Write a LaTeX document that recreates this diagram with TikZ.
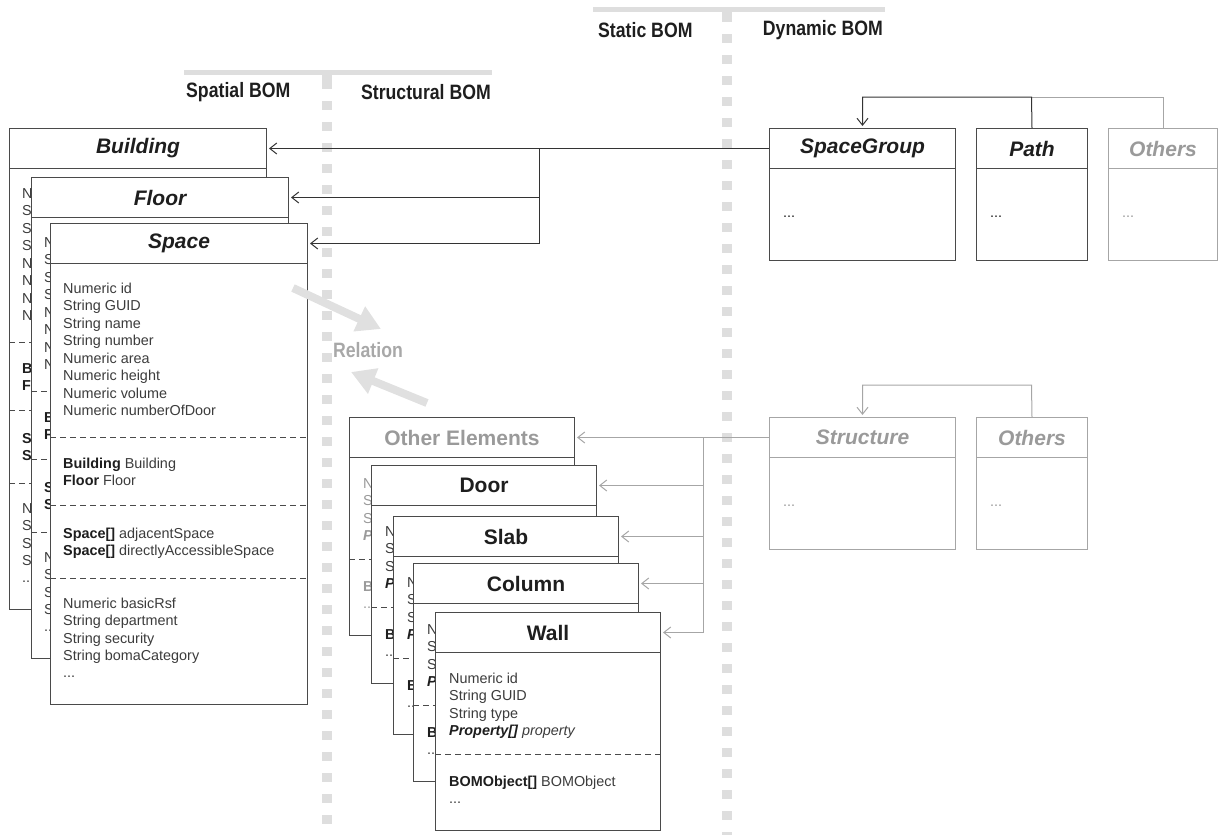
\documentclass[tikz,border=0pt]{standalone}
\usepackage{fontspec}
\setmainfont{Liberation Sans}
\newfontfamily\hdrfont{Liberation Sans}[FakeStretch=0.85]
\usetikzlibrary{arrows.meta}

\definecolor{boxc}{HTML}{4A4A4A}
\definecolor{titlec}{HTML}{1E1E1E}
\definecolor{txtc}{HTML}{3C3C3C}
\definecolor{boldc}{HTML}{1E1E1E}
\definecolor{paleline}{HTML}{A6A6A6}
\definecolor{paletxt}{HTML}{9A9A9A}
\definecolor{dividerc}{HTML}{DEDEDE}
\definecolor{relc}{HTML}{E0E0E0}
\definecolor{reltxt}{HTML}{A8A8A8}
\definecolor{connc}{HTML}{333333}
\colorlet{curtxt}{txtc}
\colorlet{curbold}{boldc}

\newcommand\ttlfont{\fontsize{21}{25}\selectfont\bfseries}
\newcommand\bodyfont{\fontsize{14.4}{17.5}\selectfont}
\newcommand\bt[1]{{\bfseries\color{curbold}#1}}

% boxes lying behind others only show the start of each line
\newif\ifbackbox
\newcommand\attr[5]{\node[bodyline] (#1) at (#2,#3) {#4\ifbackbox\else#5\fi};}

\tikzset{
  bodybox/.style={anchor=north west, draw=#1, line width=1pt, fill=white, inner sep=0pt},
  bodybox/.default=boxc,
  titlebox/.style={anchor=north west, draw=#1, line width=1pt, fill=white, inner sep=0pt,
    minimum height=40pt, font=\ttlfont, text=titlec},
  titlebox/.default=boxc,
  bodyline/.style={anchor=base west, inner sep=0pt, font=\bodyfont, text=curtxt},
  dashsep/.style={draw=boxc, line width=1pt, dash pattern=on 6pt off 4pt},
  hdrtxt/.style={inner sep=0pt, font=\hdrfont\fontsize{20.8}{24}\selectfont\bfseries, text=titlec},
  divbar/.style={draw=dividerc, line width=5pt},
  divdots/.style={draw=dividerc, line width=10pt, dash pattern=on 9pt off 12pt},
  darkconn/.style={draw=connc, line width=1pt},
  paleconn/.style={draw=paleline, line width=1pt},
  arrowend/.style={-{Straight Barb[length=7pt,width=11pt,line width=1pt]}, shorten >=2pt},
  relarrow/.style={draw=relc, line width=8pt, -{Triangle[length=24pt,width=26pt]}},
}

% spatial class box: name, left, top, title, visible width of the attributes
\newcommand\spacebox[5]{%
  \node[bodybox, minimum width=257pt, minimum height=481pt] (#1) at (#2,#3) {};
  \node[titlebox, minimum width=257pt, font=\ttlfont\itshape] (#1-t) at (#2,#3) {#4};
  \begin{scope}[shift={(#2,#3)}]
    \draw[dashsep] (0,214) -- (257,214);
    \draw[dashsep] (0,282) -- (257,282);
    \draw[dashsep] (0,355) -- (257,355);
    \clip (0,0) rectangle (#5,481);
    \attr{#1-a1}{13}{70}{N}{umeric id}
    \attr{#1-a2}{13}{87.5}{S}{tring GUID}
    \attr{#1-a3}{13}{105}{S}{tring name}
    \attr{#1-a4}{13}{122.5}{S}{tring number}
    \attr{#1-a5}{13}{140}{N}{umeric area}
    \attr{#1-a6}{13}{157.5}{N}{umeric height}
    \attr{#1-a7}{13}{175}{N}{umeric volume}
    \attr{#1-a8}{13}{192.5}{N}{umeric numberOfDoor}
    \attr{#1-b1}{13}{245}{\bt{B}}{\bt{uilding} Building}
    \attr{#1-b2}{13}{262.5}{\bt{F}}{\bt{loor} Floor}
    \attr{#1-c1}{13}{315}{\bt{S}}{\bt{pace[]} adjacentSpace}
    \attr{#1-c2}{13}{332.5}{\bt{S}}{\bt{pace[]} directlyAccessibleSpace}
    \attr{#1-d1}{13}{385}{N}{umeric basicRsf}
    \attr{#1-d2}{13}{402.5}{S}{tring department}
    \attr{#1-d3}{13}{420}{S}{tring security}
    \attr{#1-d4}{13}{437.5}{S}{tring bomaCategory}
    \attr{#1-d5}{13}{454}{...}{}
  \end{scope}}

% structural element box: name, left, top, title, title colour, visible width
\newcommand\elembox[6]{%
  \node[bodybox, minimum width=225pt, minimum height=218pt] (#1) at (#2,#3) {};
  \node[titlebox, minimum width=225pt, text=#5] (#1-t) at (#2,#3) {#4};
  \begin{scope}[shift={(#2,#3)}]
    \draw[dashsep] (0,142) -- (225,142);
    \clip (0,0) rectangle (#6,218);
    \attr{#1-a1}{14}{71}{N}{umeric id}
    \attr{#1-a2}{14}{88.5}{S}{tring GUID}
    \attr{#1-a3}{14}{106}{S}{tring type}
    \attr{#1-a4}{14}{123.5}{\bt{\itshape P}}{\bt{\itshape roperty[]} \itshape property}
    \attr{#1-b1}{14}{174}{\bt{B}}{\bt{OMObject[]} BOMObject}
    \attr{#1-b2}{14}{191}{...}{}
  \end{scope}}

% dynamic class box: name, left, top, width, title, line colour, text colour
\newcommand\classbox[7]{%
  \node[bodybox=#6, minimum width=#4pt, minimum height=132pt] (#1) at (#2,#3) {};
  \node[titlebox=#6, minimum width=#4pt, font=\ttlfont\itshape, text=#7] (#1-t) at (#2,#3) {#5};
  \node[bodyline, text=#7] (#1-a1) at (#2+14,#3+89) {...};}

\begin{document}
\begin{tikzpicture}[x=1pt,y=-1pt]
\useasboundingbox (0,0) rectangle (1219,835);

% column dividers
\draw[divbar] (184,72) -- (492,72);
\draw[divdots] (327,72) -- (327,82);
\draw[divdots] (327,80) -- (327,835);
\draw[divbar] (593,9.5) -- (885,9.5);
\draw[divdots] (727,9.5) -- (727,16);
\draw[divdots] (727,13) -- (727,835);

\node[hdrtxt, anchor=west] (spatial) at (186,92) {Spatial BOM};
\node[hdrtxt, anchor=east] (structural) at (491,92) {Structural BOM};
\node[hdrtxt, anchor=west] (static) at (598,30) {Static BOM};
\node[hdrtxt, anchor=east] (dynamic) at (883,30) {Dynamic BOM};

% spatial classes
\backboxtrue
\spacebox{building}{9}{128}{Building}{22}
\spacebox{floor}{31}{177}{Floor}{19}
\backboxfalse
\spacebox{space}{50}{223}{Space}{257}

% structural classes
\backboxtrue
\colorlet{curtxt}{paletxt}\colorlet{curbold}{paletxt}
\elembox{otherel}{349}{417}{Other Elements}{paletxt}{22}
\colorlet{curtxt}{txtc}\colorlet{curbold}{boldc}
\elembox{door}{371}{465}{Door}{titlec}{22}
\elembox{slab}{393}{516}{Slab}{titlec}{20}
\elembox{column}{413}{563}{Column}{titlec}{22}
\backboxfalse
\elembox{wall}{435}{612}{Wall}{titlec}{225}

% dynamic classes
\classbox{sg}{769}{128}{186}{SpaceGroup}{boxc}{titlec}
\classbox{path}{976}{128}{111}{Path}{boxc}{titlec}
\classbox{othtop}{1108}{128}{109}{Others}{paleline}{paletxt}
\classbox{struct}{769}{417}{186}{Structure}{paleline}{paletxt}
\classbox{othmid}{976}{417}{111}{Others}{paleline}{paletxt}

% generalisation among dynamic classes
\coordinate (jtop) at (1031.5,97);
\draw[paleconn] (othtop-t.north) |- (jtop);
\draw[darkconn, arrowend] (path-t.north) -- (jtop) -| (sg-t.north);
\coordinate (jmid) at (1031.5,385);
\draw[paleconn, arrowend] (othmid-t.north) -- (jmid) -| (struct-t.north);

% links from dynamic to static classes
\coordinate (jl) at (539,148);
\draw[darkconn, arrowend] (sg-t.west) -- (building-t.east);
\draw[darkconn, arrowend] (jl) |- (floor-t.east);
\draw[darkconn, arrowend] (jl) |- (space-t.east);

\coordinate (jm) at (703,437);
\draw[paleconn, arrowend] (struct-t.west) -- (otherel-t.east);
\draw[paleconn, arrowend] (jm) |- (door-t.east);
\draw[paleconn, arrowend] (jm) |- (slab-t.east);
\draw[paleconn, arrowend] (jm) |- (column-t.east);
\draw[paleconn, arrowend] (jm) |- (wall-t.east);

% relation between spatial and structural parts
\coordinate (ra1) at (293,288);
\coordinate (rb1) at (381,329);
\coordinate (ra2) at (427,403);
\coordinate (rb2) at (351,372);
\draw[relarrow] (ra1) -- (rb1);
\draw[relarrow] (ra2) -- (rb2);
\node[hdrtxt, text=reltxt] (relation) at (368,350) {Relation};
\end{tikzpicture}
\end{document}
